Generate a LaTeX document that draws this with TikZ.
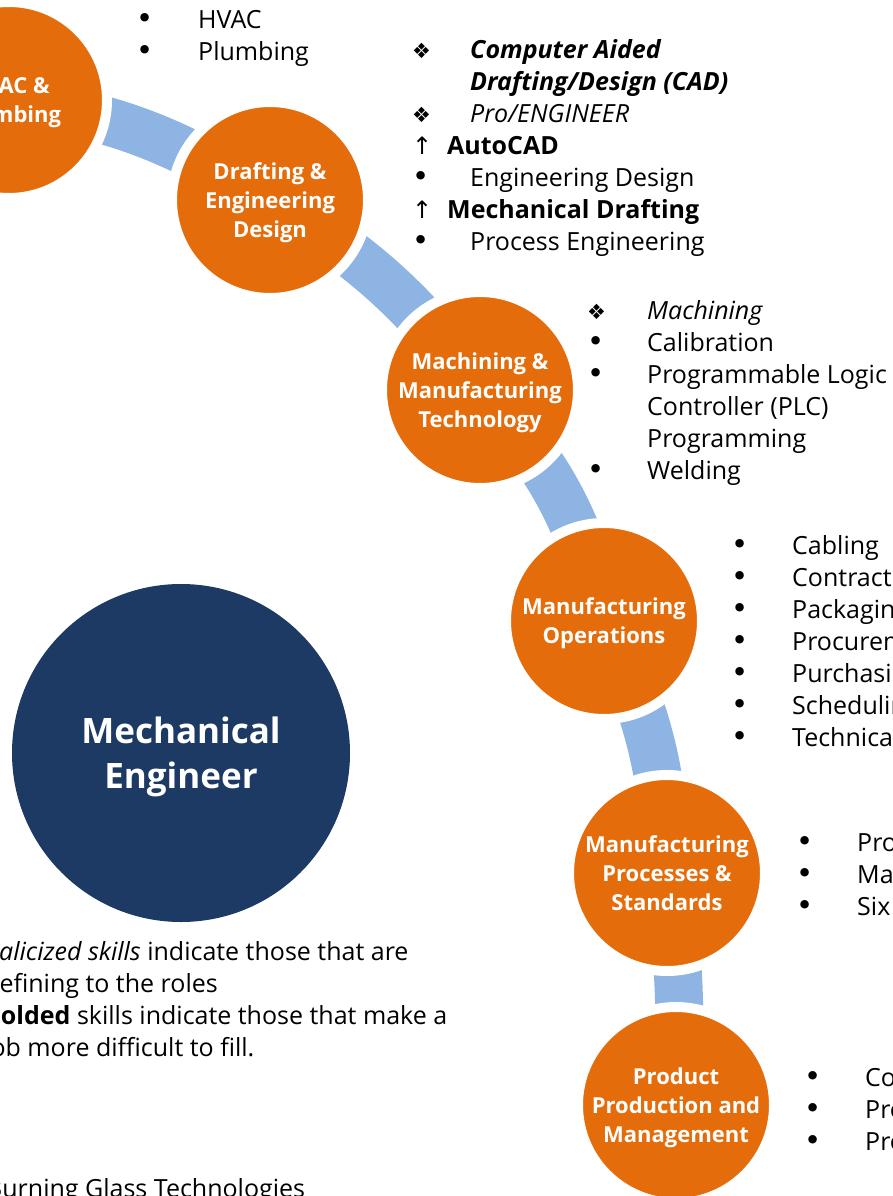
\documentclass[tikz,border=0pt]{standalone}
\usepackage{fontspec}
\setmainfont{Open Sans}
\newfontfamily\symfont{DejaVu Sans}
\usetikzlibrary{positioning,backgrounds}
\definecolor{stageorange}{HTML}{E46C0A}
\definecolor{linkblue}{HTML}{8EB4E3}
\definecolor{rolenavy}{HTML}{1C3A63}
\newcommand{\bodyfont}{\fontsize{25}{32}\selectfont}
\newcommand{\stagefont}{\fontsize{22}{29}\selectfont\bfseries}
\newcommand{\rolefont}{\fontsize{35}{45}\selectfont\bfseries}
\newcommand{\skl}[3][61pt]{\strut\makebox[#1][l]{#2}#3}
\newcommand{\bul}{{\symfont\fontsize{29}{29}\selectfont •}}
\newcommand{\dia}{{\symfont\fontsize{21}{21}\selectfont ❖}}
\newcommand{\upa}{{\symfont\fontsize{24}{24}\selectfont ↑}}
\tikzset{
  stage/.style={circle, minimum size=196pt, inner sep=0pt, fill=stageorange, draw=white, line width=10pt, text=white, font=\stagefont, align=center, text depth=0pt},
  role/.style={circle, minimum size=338pt, inner sep=0pt, fill=rolenavy, text=white, font=\rolefont, align=center, text depth=0pt},
  link/.style={draw=linkblue, line width=48pt},
  skills/.style={anchor=north west, inner sep=0pt, align=left, font=\bodyfont}
}
\begin{document}
\begin{tikzpicture}[x=1pt, y=-1pt]
\useasboundingbox (0,0) rectangle (893,1196);
\clip (0,0) rectangle (893,1196);
\node[stage] (hvac) at (9,100) {HVAC \&\\Plumbing};
\node[stage] (draft) at (270,200) {Drafting \&\\Engineering\\Design};
\node[stage] (mach) at (480,390) {Machining \&\\Manufacturing\\Technology};
\node[stage] (ops) at (604,621) {Manufacturing\\Operations};
\node[stage] (proc) at (667,873) {Manufacturing\\Processes \&\\Standards};
\node[stage] (prod) at (676,1105) {Product\\Production and\\Management};
\node[role] (eng) at (181,753) {Mechanical\\Engineer};
\begin{scope}[on background layer]
  \draw[link] (hvac.center) to[bend left=12] (draft.center);
  \draw[link] (draft.center) to[bend left=11] (mach.center);
  \draw[link] (mach.center) to[bend left=15] (ops.center);
  \draw[link] (ops.center) to[bend left=12] (proc.center);
  \draw[link] (proc.center) to[bend left=6] (prod.center);
\end{scope}
\node[skills] (hvacsk) at (136,5.5) {\skl[62pt]{\bul}{HVAC}\\\skl[62pt]{\bul}{Plumbing}};
\node[skills] (draftsk) at (412,35.5) {\skl[58pt]{\dia}{\textbf{\textit{Computer Aided}}}\\
  \skl[58pt]{}{\textbf{\textit{Drafting/Design (CAD)}}}\\
  \skl[58pt]{\dia}{\textit{Pro/ENGINEER}}\\
  \skl[35pt]{\upa}{\textbf{AutoCAD}}\\
  \skl[58pt]{\bul}{Engineering Design}\\
  \skl[35pt]{\upa}{\textbf{Mechanical Drafting}}\\
  \skl[58pt]{\bul}{Process Engineering}};
\node[skills] (machsk) at (587,296.5) {\skl[60pt]{\dia}{\textit{Machining}}\\
  \skl[60pt]{\bul}{Calibration}\\
  \skl[60pt]{\bul}{Programmable Logic}\\
  \skl[60pt]{}{Controller (PLC)}\\
  \skl[60pt]{}{Programming}\\
  \skl[60pt]{\bul}{Welding}};
\node[skills] (opssk) at (731,531.5) {\skl{\bul}{Cabling}\\\skl{\bul}{Contract}\\\skl{\bul}{Packaging}\\
  \skl{\bul}{Procurement}\\\skl{\bul}{Purchasing}\\\skl{\bul}{Scheduling}\\\skl{\bul}{Technical}};
\node[skills] (procsk) at (796,828.5) {\skl{\bul}{Pro}\\\skl{\bul}{Ma}\\\skl{\bul}{Six}};
\node[skills] (prodsk) at (804,1063.5) {\skl{\bul}{Co}\\\skl{\bul}{Pro}\\\skl{\bul}{Pro}};
\node[skills] (legend) at (-16,941) {\textit{Italicized skills} indicate those that are\\
  defining to the roles\\
  \textbf{Bolded} skills indicate those that make a\\
  job more difficult to fill.};
\node[skills] (source) at (-14,1178) {Burning Glass Technologies};
\end{tikzpicture}
\end{document}
